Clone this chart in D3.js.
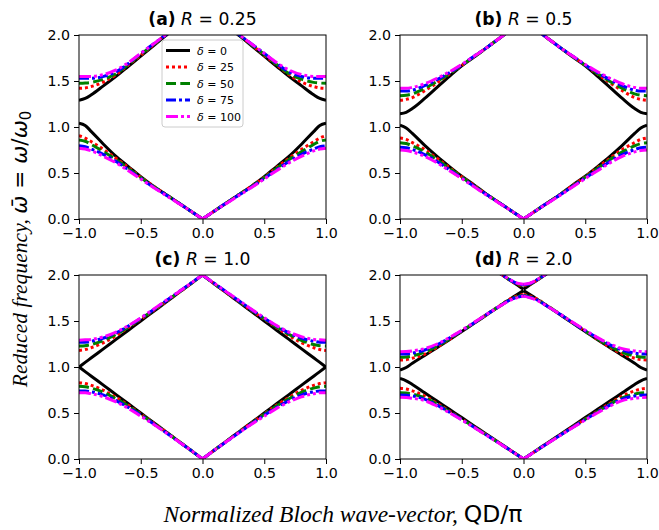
<!DOCTYPE html>
<head>
  <meta charset="utf-8">
  <script src="https://cdn.jsdelivr.net/npm/d3@7/dist/d3.min.js"></script>
  <style>
    body { margin: 0; background: #fff; }
    text { fill: #000; }
  </style>
</head>
<body>
  <div id="chart"></div>
  <script>
    // damping values and line styles, one per series
    var deltas = [0, 25, 50, 75, 100];
    var colours = ["#000000", "#ff0000", "#008000", "#0000ff", "#ff00ff"];
    var dashes = [null, "3,3", "10,4.3", "10,3,3,3", "12,3,3,3,3,3"];

    var xTicks = [-1, -0.5, 0, 0.5, 1];
    var yTicks = [0, 0.5, 1, 1.5, 2];
    var letters = ["a", "b", "c", "d"];
    var rLabels = ["0.25", "0.5", "1.0", "2.0"];

    // normalized wave-vector (right half, curves are symmetric about Q = 0)
    var qGrid = [0, 0.1, 0.2, 0.3, 0.4, 0.5, 0.6, 0.7, 0.8, 0.9, 0.95, 1.0];
    var qTop = [0, 0.05, 0.1, 0.15, 0.2, 0.25];

    // (a) R = 0.25
    var lowerA = [
      [0, 0.09, 0.18, 0.27, 0.36, 0.46, 0.57, 0.68, 0.81, 0.95, 1.015, 1.04],
      [0, 0.09, 0.18, 0.27, 0.36, 0.455, 0.56, 0.66, 0.755, 0.84, 0.88, 0.905],
      [0, 0.09, 0.18, 0.27, 0.355, 0.45, 0.55, 0.645, 0.73, 0.81, 0.845, 0.86],
      [0, 0.09, 0.18, 0.265, 0.35, 0.44, 0.535, 0.625, 0.70, 0.76, 0.785, 0.795],
      [0, 0.09, 0.175, 0.26, 0.345, 0.435, 0.525, 0.61, 0.68, 0.74, 0.76, 0.77]
    ];
    var upperA = [
      [2.30, 2.20, 2.10, 1.99, 1.88, 1.77, 1.66, 1.55, 1.45, 1.35, 1.31, 1.29],
      [2.30, 2.20, 2.10, 2.00, 1.89, 1.78, 1.675, 1.57, 1.49, 1.44, 1.425, 1.42],
      [2.30, 2.20, 2.10, 2.00, 1.89, 1.79, 1.68, 1.58, 1.52, 1.485, 1.478, 1.475],
      [2.30, 2.20, 2.10, 2.00, 1.90, 1.80, 1.69, 1.60, 1.55, 1.53, 1.53, 1.53],
      [2.30, 2.20, 2.10, 2.00, 1.90, 1.80, 1.70, 1.62, 1.57, 1.55, 1.55, 1.55]
    ];

    // (b) R = 0.5
    var lowerB = [
      [0, 0.09, 0.18, 0.27, 0.37, 0.465, 0.57, 0.68, 0.80, 0.93, 0.99, 1.02],
      [0, 0.09, 0.18, 0.27, 0.365, 0.46, 0.56, 0.66, 0.755, 0.83, 0.865, 0.88],
      [0, 0.09, 0.18, 0.27, 0.36, 0.455, 0.55, 0.645, 0.73, 0.795, 0.82, 0.83],
      [0, 0.09, 0.18, 0.265, 0.355, 0.445, 0.535, 0.625, 0.70, 0.755, 0.775, 0.78],
      [0, 0.09, 0.175, 0.26, 0.35, 0.44, 0.525, 0.61, 0.68, 0.73, 0.745, 0.75]
    ];
    var upperB = [
      [2.16, 2.06, 1.96, 1.86, 1.76, 1.665, 1.55, 1.43, 1.31, 1.20, 1.16, 1.145],
      [2.16, 2.06, 1.96, 1.86, 1.765, 1.67, 1.575, 1.48, 1.395, 1.32, 1.30, 1.29],
      [2.16, 2.06, 1.96, 1.86, 1.765, 1.67, 1.58, 1.495, 1.42, 1.36, 1.345, 1.34],
      [2.16, 2.06, 1.96, 1.86, 1.77, 1.675, 1.59, 1.515, 1.45, 1.40, 1.39, 1.39],
      [2.16, 2.06, 1.96, 1.86, 1.77, 1.68, 1.60, 1.53, 1.47, 1.43, 1.42, 1.42]
    ];

    // (c) R = 1.0
    var lowerC = [
      [0, 0.1, 0.2, 0.3, 0.4, 0.5, 0.6, 0.7, 0.8, 0.9, 0.95, 1.0],
      [0, 0.1, 0.2, 0.3, 0.395, 0.49, 0.585, 0.67, 0.745, 0.80, 0.82, 0.83],
      [0, 0.1, 0.2, 0.295, 0.39, 0.485, 0.575, 0.655, 0.725, 0.77, 0.785, 0.79],
      [0, 0.1, 0.195, 0.29, 0.385, 0.475, 0.56, 0.635, 0.695, 0.73, 0.74, 0.74],
      [0, 0.1, 0.195, 0.29, 0.38, 0.465, 0.55, 0.62, 0.675, 0.71, 0.72, 0.72]
    ];
    var upperC = [
      [2.0, 1.9, 1.8, 1.7, 1.6, 1.5, 1.4, 1.3, 1.2, 1.1, 1.05, 1.0],
      [2.0, 1.90, 1.80, 1.705, 1.61, 1.52, 1.43, 1.34, 1.265, 1.21, 1.19, 1.18],
      [2.0, 1.90, 1.805, 1.71, 1.615, 1.525, 1.435, 1.355, 1.29, 1.245, 1.232, 1.228],
      [2.0, 1.905, 1.81, 1.715, 1.62, 1.53, 1.445, 1.37, 1.315, 1.28, 1.27, 1.27],
      [2.0, 1.905, 1.81, 1.72, 1.625, 1.535, 1.45, 1.38, 1.33, 1.30, 1.295, 1.29]
    ];

    // (d) R = 2.0
    var lowerD = [
      [0, 0.09, 0.18, 0.27, 0.36, 0.45, 0.54, 0.63, 0.72, 0.81, 0.85, 0.875],
      [0, 0.088, 0.176, 0.263, 0.35, 0.435, 0.52, 0.605, 0.685, 0.74, 0.76, 0.768],
      [0, 0.088, 0.175, 0.262, 0.348, 0.432, 0.515, 0.595, 0.665, 0.705, 0.717, 0.72],
      [0, 0.088, 0.175, 0.26, 0.345, 0.428, 0.51, 0.585, 0.65, 0.685, 0.693, 0.695],
      [0, 0.087, 0.173, 0.258, 0.342, 0.424, 0.502, 0.575, 0.635, 0.66, 0.668, 0.67]
    ];
    var middleD = [
      [1.83, 1.745, 1.655, 1.565, 1.475, 1.385, 1.295, 1.21, 1.125, 1.04, 0.995, 0.967],
      [1.79, 1.745, 1.66, 1.57, 1.48, 1.39, 1.30, 1.215, 1.14, 1.095, 1.08, 1.076],
      [1.78, 1.74, 1.66, 1.57, 1.48, 1.39, 1.305, 1.225, 1.16, 1.12, 1.108, 1.105],
      [1.775, 1.735, 1.655, 1.57, 1.48, 1.395, 1.315, 1.24, 1.185, 1.15, 1.142, 1.14],
      [1.77, 1.73, 1.655, 1.57, 1.485, 1.40, 1.32, 1.25, 1.20, 1.175, 1.168, 1.166]
    ];
    var topD = [
      [1.845, 1.89, 1.935, 1.98, 2.025, 2.07],
      [1.885, 1.90, 1.935, 1.98, 2.025, 2.07],
      [1.89, 1.903, 1.937, 1.98, 2.025, 2.07],
      [1.895, 1.906, 1.94, 1.982, 2.027, 2.07],
      [1.90, 1.91, 1.942, 1.984, 2.028, 2.07]
    ];

    var bands = [
      [{q: qGrid, v: lowerA}, {q: qGrid, v: upperA}],
      [{q: qGrid, v: lowerB}, {q: qGrid, v: upperB}],
      [{q: qGrid, v: lowerC}, {q: qGrid, v: upperC}],
      [{q: qGrid, v: lowerD}, {q: qGrid, v: middleD}, {q: qTop, v: topD}]
    ];

    var width = 659, height = 530;
    var pw = 247, ph = 184;
    var origins = [[79, 35], [400, 35], [79, 275], [400, 275]];
    var sans = "DejaVu Sans, sans-serif";
    var serif = "Liberation Serif, Times New Roman, serif";

    var svg = d3.select("#chart").append("svg")
        .attr("width", width)
        .attr("height", height);

    origins.forEach(function(o, p) {
      var g = svg.append("g").attr("transform", "translate(" + o[0] + "," + o[1] + ")");
      var x = d3.scaleLinear().domain([-1, 1]).range([0, pw]);
      var y = d3.scaleLinear().domain([0, 2]).range([ph, 0]);

      g.append("clipPath").attr("id", "clip" + p)
        .append("rect").attr("width", pw).attr("height", ph);

      var line = d3.line()
          .x(function(d) { return x(d[0]); })
          .y(function(d) { return y(d[1]); })
          .curve(d3.curveMonotoneX);

      var curves = g.append("g").attr("clip-path", "url(#clip" + p + ")");

      // draw series in delta order so magenta ends on top
      deltas.forEach(function(dl, i) {
        bands[p].forEach(function(b) {
          var right = b.q.map(function(q, k) { return [q, b.v[i][k]]; });
          var left = b.q.map(function(q, k) { return [-q, b.v[i][k]]; }).reverse();
          [left, right].forEach(function(pts) {
            curves.append("path")
                .attr("d", line(pts))
                .attr("fill", "none")
                .attr("stroke", colours[i])
                .attr("stroke-width", 3)
                .attr("stroke-dasharray", dashes[i]);
          });
        });
      });

      var xAxis = g.append("g").attr("transform", "translate(0," + ph + ")")
          .call(d3.axisBottom(x).tickValues(xTicks).tickSizeOuter(0).tickSize(5).tickPadding(4)
            .tickFormat(function(d) { return d3.format(".1f")(d).replace("-", "\u2212"); }));
      var yAxis = g.append("g")
          .call(d3.axisLeft(y).tickValues(yTicks).tickSizeOuter(0).tickSize(5).tickPadding(4)
            .tickFormat(d3.format(".1f")));
      [xAxis, yAxis].forEach(function(a) {
        a.select(".domain").remove();
        a.selectAll("line").attr("stroke", "#000").attr("stroke-width", 1);
        a.selectAll("text").attr("font-family", sans).attr("font-size", 14.2).attr("fill", "#000");
      });

      g.append("rect")
          .attr("width", pw).attr("height", ph)
          .attr("fill", "none").attr("stroke", "#000").attr("stroke-width", 1);

      var title = g.append("text")
          .attr("x", pw / 2).attr("y", -10)
          .attr("text-anchor", "middle")
          .attr("font-family", sans).attr("font-size", 17.2);
      title.append("tspan").attr("font-weight", "bold").text("(" + letters[p] + ")");
      title.append("tspan").text(" ");
      title.append("tspan").attr("font-style", "italic").text("R");
      title.append("tspan").text(" = " + rLabels[p]);
    });

    // legend in panel (a)
    var lg = svg.append("g").attr("transform", "translate(162,40)");
    lg.append("rect")
        .attr("width", 81).attr("height", 87).attr("rx", 3)
        .attr("fill", "#fff").attr("fill-opacity", 0.8)
        .attr("stroke", "#cccccc").attr("stroke-width", 1);
    deltas.forEach(function(dl, i) {
      var row = lg.append("g").attr("transform", "translate(0," + (10.5 + i * 16.5) + ")");
      row.append("line")
          .attr("x1", 4).attr("x2", 28)
          .attr("stroke", colours[i]).attr("stroke-width", 3)
          .attr("stroke-dasharray", dashes[i]);
      var t = row.append("text").attr("x", 35).attr("y", 4)
          .attr("font-family", sans).attr("font-size", 11);
      t.append("tspan").attr("font-style", "italic").text("\u03b4");
      t.append("tspan").text(" = " + dl);
    });

    // shared axis labels
    var yl = svg.append("text")
        .attr("transform", "translate(27,249) rotate(-90)")
        .attr("text-anchor", "middle")
        .attr("font-size", 21.6);
    yl.append("tspan").attr("font-family", serif).attr("font-style", "italic").text("Reduced frequency, ");
    yl.append("tspan").attr("font-family", sans).attr("font-style", "italic").text("\u03c9\u0304");
    yl.append("tspan").attr("font-family", sans).text(" = ");
    yl.append("tspan").attr("font-family", sans).attr("font-style", "italic").text("\u03c9");
    yl.append("tspan").attr("font-family", sans).text("/");
    yl.append("tspan").attr("font-family", sans).attr("font-style", "italic").text("\u03c9");
    yl.append("tspan").attr("font-family", sans).attr("font-size", 15).attr("dy", 4).text("0");

    var xl = svg.append("text")
        .attr("x", 343).attr("y", 522)
        .attr("text-anchor", "middle")
        .attr("font-size", 23.5);
    xl.append("tspan").attr("font-family", serif).attr("font-style", "italic").text("Normalized Bloch wave-vector, ");
    xl.append("tspan").attr("font-family", sans).text("QD/\u03c0");
  </script>
</body>
